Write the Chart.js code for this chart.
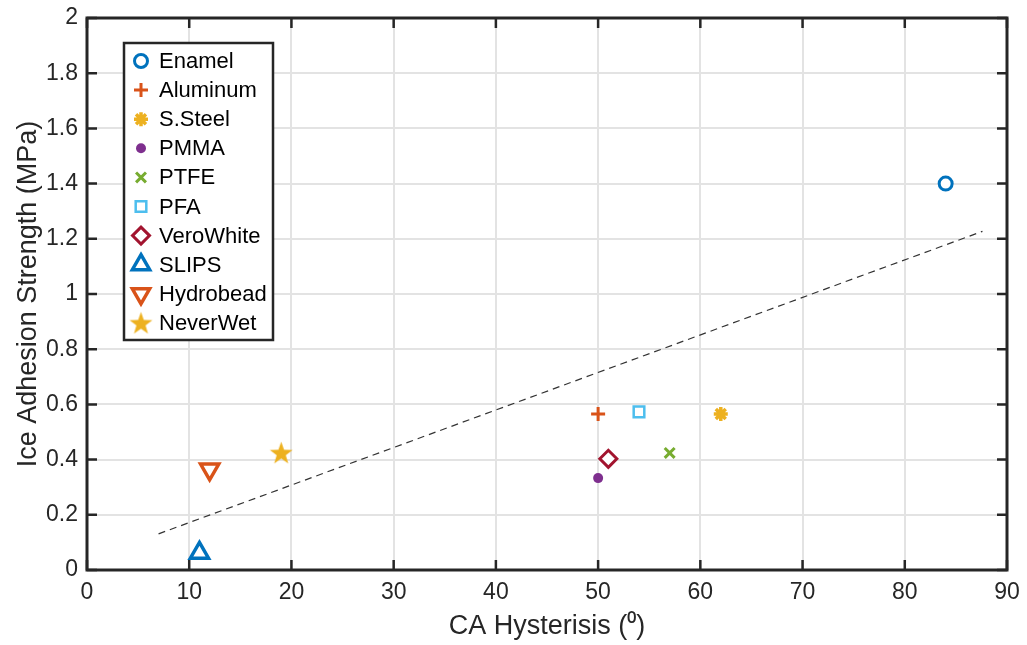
<!DOCTYPE html>
<html>
<head>
<meta charset="utf-8">
<script src="https://cdn.jsdelivr.net/npm/chart.js@4.4.1/dist/chart.umd.min.js"></script>
<style>
  html, body { margin: 0; padding: 0; background: #fff; }
  #wrap { width: 1027px; height: 645px; }
</style>
</head>
<body>
<div id="wrap"><canvas id="chart"></canvas></div>
<script>
// values
const materials = ['Enamel', 'Aluminum', 'S.Steel', 'PMMA', 'PTFE', 'PFA', 'VeroWhite', 'SLIPS', 'Hydrobead', 'NeverWet'];
const hysteresis = [84, 50, 62, 50, 57, 54, 51, 11, 12, 19];
const adhesion = [1.40, 0.565, 0.565, 0.333, 0.424, 0.573, 0.403, 0.062, 0.365, 0.425];
const fitX = [7, 87.6];
const fitY = [0.131, 1.227];
const xTicks = [0, 10, 20, 30, 40, 50, 60, 70, 80, 90];
const yTicks = [0, 0.2, 0.4, 0.6, 0.8, 1, 1.2, 1.4, 1.6, 1.8, 2];
const yTickLabels = ['0', '0.2', '0.4', '0.6', '0.8', '1', '1.2', '1.4', '1.6', '1.8', '2'];

const FONT = "'Liberation Sans', Arial, sans-serif";
const INK = '#262626';

// pentagram marker for NeverWet
function makeStar(color, size) {
  const c = document.createElement('canvas');
  c.width = size; c.height = size;
  const g = c.getContext('2d');
  const R = size / 2 - 0.5, r = R * 0.40, cx = size / 2, cy = size / 2 + 1;
  g.beginPath();
  for (let i = 0; i < 10; i++) {
    const a = -Math.PI / 2 + i * Math.PI / 5;
    const rr = i % 2 === 0 ? R : r;
    g.lineTo(cx + rr * Math.cos(a), cy + rr * Math.sin(a));
  }
  g.closePath();
  g.fillStyle = color;
  g.fill();
  return c;
}

const markers = [
  { style: 'circle', color: '#0072BD', fill: '#ffffff', radius: 6.5, width: 3, rot: 0 },
  { style: 'cross', color: '#D95319', fill: '#D95319', radius: 7, width: 3, rot: 0 },
  { style: 'star', color: '#EDB120', fill: '#EDB120', radius: 7, width: 3.5, rot: 0 },
  { style: 'circle', color: '#7E2F8E', fill: '#7E2F8E', radius: 5, width: 0, rot: 0 },
  { style: 'crossRot', color: '#77AC30', fill: '#77AC30', radius: 7, width: 3, rot: 0 },
  { style: 'rect', color: '#4DBEEE', fill: '#ffffff', radius: 7.5, width: 2.5, rot: 0 },
  { style: 'rectRot', color: '#A2142F', fill: '#ffffff', radius: 8.5, width: 3, rot: 0 },
  { style: 'triangle', color: '#0072BD', fill: '#ffffff', radius: 10.5, width: 3.5, rot: 0 },
  { style: 'triangle', color: '#D95319', fill: '#ffffff', radius: 10.5, width: 3.5, rot: 180 },
  { style: makeStar('#EDB120', 25), color: '#EDB120', fill: '#EDB120', radius: 12, width: 0, rot: 0 },
];

const datasets = materials.map((name, i) => ({
  label: name,
  data: [{ x: hysteresis[i], y: adhesion[i] }],
  pointStyle: markers[i].style,
  pointRadius: markers[i].radius,
  pointBorderWidth: markers[i].width,
  pointBorderColor: markers[i].color,
  pointBackgroundColor: markers[i].fill,
  pointRotation: markers[i].rot,
}));

datasets.push({
  label: 'fit',
  data: fitX.map((x, i) => ({ x, y: fitY[i] })),
  showLine: true,
  pointRadius: 0,
  borderColor: '#333333',
  borderWidth: 1.2,
  borderDash: [7, 5],
});

const framePlugin = {
  id: 'matlabFrame',
  afterDatasetsDraw(chart) {
    const { ctx, chartArea: a, scales } = chart;
    ctx.save();
    ctx.strokeStyle = INK;
    ctx.lineWidth = 2.5;
    ctx.beginPath();
    xTicks.forEach(v => {
      const px = scales.x.getPixelForValue(v);
      ctx.moveTo(px, a.bottom); ctx.lineTo(px, a.bottom - 10);
      ctx.moveTo(px, a.top); ctx.lineTo(px, a.top + 10);
    });
    yTicks.forEach(v => {
      const py = scales.y.getPixelForValue(v);
      ctx.moveTo(a.left, py); ctx.lineTo(a.left + 10, py);
      ctx.moveTo(a.right, py); ctx.lineTo(a.right - 10, py);
    });
    ctx.stroke();
    ctx.lineWidth = 3;
    ctx.strokeRect(a.left, a.top, a.right - a.left, a.bottom - a.top);
    ctx.restore();
  },
  afterDraw(chart) {
    // legend box, upper left inside axes
    const ctx = chart.ctx;
    const bx = 124, by = 43, bw = 149, bh = 297;
    ctx.save();
    ctx.fillStyle = '#ffffff';
    ctx.fillRect(bx, by, bw, bh);
    ctx.strokeStyle = INK;
    ctx.lineWidth = 2.5;
    ctx.strokeRect(bx, by, bw, bh);
    ctx.font = '22px ' + FONT;
    ctx.textBaseline = 'middle';
    materials.forEach((name, i) => {
      const y = 61 + i * 29.1;
      const m = markers[i];
      ctx.fillStyle = m.fill;
      ctx.strokeStyle = m.color;
      ctx.lineWidth = m.width;
      if (Chart.helpers && Chart.helpers.drawPoint) {
        Chart.helpers.drawPoint(ctx, {
          pointStyle: m.style,
          radius: m.style === 'triangle' ? 10 : m.radius,
          borderWidth: m.width,
          rotation: m.rot,
        }, 141, y);
      }
      ctx.fillStyle = '#000000';
      ctx.fillText(name, 159, y + 1);
    });
    ctx.restore();
  },
};

new Chart(document.getElementById('chart'), {
  type: 'scatter',
  data: { datasets },
  plugins: [framePlugin],
  options: {
    responsive: true,
    maintainAspectRatio: false,
    animation: false,
    events: [],
    layout: { padding: { left: 10, right: 20, top: 18, bottom: 0 } },
    plugins: { legend: { display: false }, tooltip: { enabled: false } },
    scales: {
      x: {
        type: 'linear',
        min: 0,
        max: 90,
        afterBuildTicks: (s) => { s.ticks = xTicks.map(v => ({ value: v })); },
        afterFit: (s) => { s.height = 75; s.paddingLeft = 0; s.paddingRight = 0; },
        ticks: {
          callback: (v) => String(v),
          font: { family: FONT, size: 23 },
          color: INK,
          padding: 9,
          maxRotation: 0,
          autoSkip: false,
        },
        grid: { color: '#e3e3e3', lineWidth: 2, drawTicks: false },
        border: { display: false },
        title: {
          display: true,
          text: 'CA Hysterisis (\u2070)',
          font: { family: FONT, size: 27 },
          color: INK,
          padding: { top: 0, bottom: 2 },
        },
      },
      y: {
        type: 'linear',
        min: 0,
        max: 2,
        afterBuildTicks: (s) => { s.ticks = yTicks.map(v => ({ value: v })); },
        afterFit: (s) => { s.width = 77; s.paddingTop = 0; s.paddingBottom = 0; },
        ticks: {
          callback: (v) => yTickLabels[yTicks.indexOf(v)] ?? '',
          font: { family: FONT, size: 23 },
          color: INK,
          padding: 9,
          autoSkip: false,
        },
        grid: { color: '#e3e3e3', lineWidth: 2, drawTicks: false },
        border: { display: false },
        title: {
          display: true,
          text: 'Ice Adhesion Strength (MPa)',
          font: { family: FONT, size: 27 },
          color: INK,
          padding: { top: 2, bottom: 0 },
        },
      },
    },
  },
});
</script>
</body>
</html>
